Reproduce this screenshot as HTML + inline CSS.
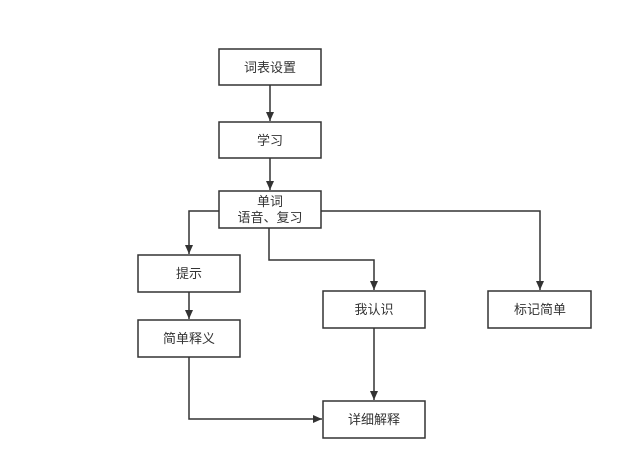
<!DOCTYPE html>
<html><head><meta charset="utf-8"><style>
body{margin:0;background:#fff;width:640px;height:456px;overflow:hidden}
text{font-family:"Liberation Sans","Noto Sans CJK SC",sans-serif;font-size:13px;fill:#333;text-anchor:middle}
rect{fill:#fff;stroke:#333;stroke-width:1.5}
path{fill:none;stroke:#333;stroke-width:1.5}
</style></head><body>
<svg width="640" height="456" xmlns="http://www.w3.org/2000/svg">
<defs><marker id="a" markerWidth="10" markerHeight="10" refX="9" refY="5" orient="auto" markerUnits="userSpaceOnUse"><path d="M0,1 L9,5 L0,9 Z" style="fill:#333;stroke:none"/></marker></defs>
<path d="M270,85 V121" marker-end="url(#a)"/>
<path d="M270,158 V190" marker-end="url(#a)"/>
<path d="M219,211 H189 V254" marker-end="url(#a)"/>
<path d="M189,292 V319" marker-end="url(#a)"/>
<path d="M269,228 V260 H374 V290" marker-end="url(#a)"/>
<path d="M321,211 H540 V290" marker-end="url(#a)"/>
<path d="M374,328 V400" marker-end="url(#a)"/>
<path d="M189,357 V419 H322" marker-end="url(#a)"/>
<rect x="219" y="49" width="102" height="36"/><text x="270" y="72">词表设置</text>
<rect x="219" y="122" width="102" height="36"/><text x="270" y="145">学习</text>
<rect x="219" y="191" width="102" height="37"/><text x="270" y="206">单词</text><text x="270" y="222">语音、复习</text>
<rect x="138" y="255" width="102" height="37"/><text x="189" y="278">提示</text>
<rect x="138" y="320" width="102" height="37"/><text x="189" y="343">简单释义</text>
<rect x="323" y="291" width="102" height="37"/><text x="374" y="314">我认识</text>
<rect x="488" y="291" width="103" height="37"/><text x="540" y="314">标记简单</text>
<rect x="323" y="401" width="102" height="37"/><text x="374" y="424">详细解释</text>
</svg>
</body></html>
